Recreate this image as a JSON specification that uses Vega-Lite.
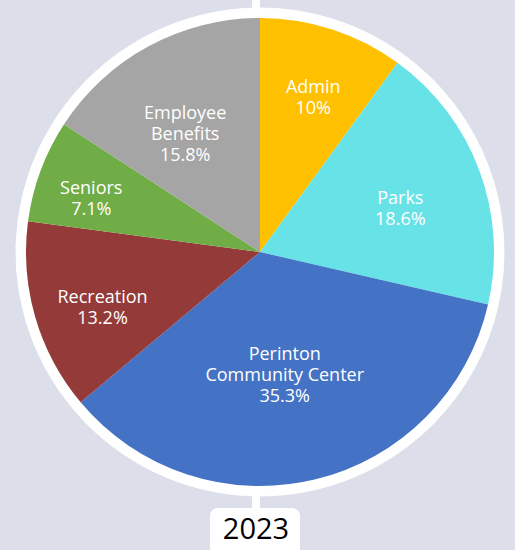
{
  "$schema": "https://vega.github.io/schema/vega-lite/v6.json",
  "width": 520,
  "height": 504,
  "autosize": "none",
  "padding": {"top": 0, "left": 0, "right": 0, "bottom": 46},
  "background": "#DCDFE9",
  "config": {"view": {"stroke": null}, "text": {"lineBreak": "\n"}},
  "data": {"values": [{"year": "2023"}]},
  "layer": [
    {
      "mark": {"type": "rule", "color": "white", "strokeWidth": 8},
      "encoding": {
        "x": {"datum": -0.017, "type": "quantitative", "scale": {"domain": [-1.1111, 1.1111], "nice": false, "zero": false}, "axis": null},
        "y": {"datum": 1.2, "type": "quantitative", "scale": {"domain": [-1.0769, 1.0769], "nice": false, "zero": false}, "axis": null},
        "y2": {"datum": -1.15}
      }
    },
    {
      "data": {"values": [
        {"category": "Admin", "label": "Admin", "value": 10, "order": 1},
        {"category": "Parks", "label": "Parks", "value": 18.6, "order": 2},
        {"category": "Perinton Community Center", "label": "Perinton\nCommunity Center", "value": 35.3, "order": 3},
        {"category": "Recreation", "label": "Recreation", "value": 13.2, "order": 4},
        {"category": "Seniors", "label": "Seniors", "value": 7.1, "order": 5},
        {"category": "Employee Benefits", "label": "Employee\nBenefits", "value": 15.8, "order": 6}
      ]},
      "transform": [{"calculate": "datum.label + '\\n' + datum.value + '%'", "as": "text"}],
      "encoding": {
        "theta": {"field": "value", "type": "quantitative", "stack": true},
        "order": {"field": "order", "type": "quantitative"}
      },
      "layer": [
        {
          "mark": {"type": "arc", "radius": 244, "color": "white", "stroke": "white", "strokeWidth": 1}
        },
        {
          "mark": {"type": "arc", "radius": 234},
          "encoding": {
            "color": {
              "field": "category", "type": "nominal", "legend": null,
              "scale": {
                "domain": ["Admin", "Parks", "Perinton Community Center", "Recreation", "Seniors", "Employee Benefits"],
                "range": ["#FFC000", "#67E3E8", "#4472C4", "#943B3A", "#70AD47", "#A5A5A5"]
              }
            }
          }
        },
        {
          "mark": {"type": "text", "color": "white", "font": "Open Sans", "fontSize": 18, "lineHeight": 21, "align": "center", "baseline": "middle"},
          "encoding": {
            "text": {"field": "text", "type": "nominal"},
            "radius": {"field": "value", "type": "quantitative", "scale": {"type": "linear", "zero": false, "domain": [7.1, 35.3], "range": [180, 106]}}
          }
        }
      ]
    },
    {
      "mark": {"type": "rect", "color": "white", "cornerRadius": 8},
      "encoding": {
        "x": {"datum": -0.2137, "type": "quantitative", "scale": {"domain": [-1.1111, 1.1111], "nice": false, "zero": false}, "axis": null},
        "x2": {"datum": 0.1709},
        "y": {"datum": -1.094, "type": "quantitative", "scale": {"domain": [-1.0769, 1.0769], "nice": false, "zero": false}, "axis": null},
        "y2": {"datum": -1.3}
      }
    },
    {
      "mark": {"type": "text", "color": "black", "font": "Open Sans", "fontSize": 29, "align": "center", "baseline": "middle"},
      "encoding": {
        "x": {"datum": -0.017, "type": "quantitative", "scale": {"domain": [-1.1111, 1.1111], "nice": false, "zero": false}, "axis": null},
        "y": {"datum": -1.19, "type": "quantitative", "scale": {"domain": [-1.0769, 1.0769], "nice": false, "zero": false}, "axis": null},
        "text": {"field": "year", "type": "nominal"}
      }
    }
  ]
}
